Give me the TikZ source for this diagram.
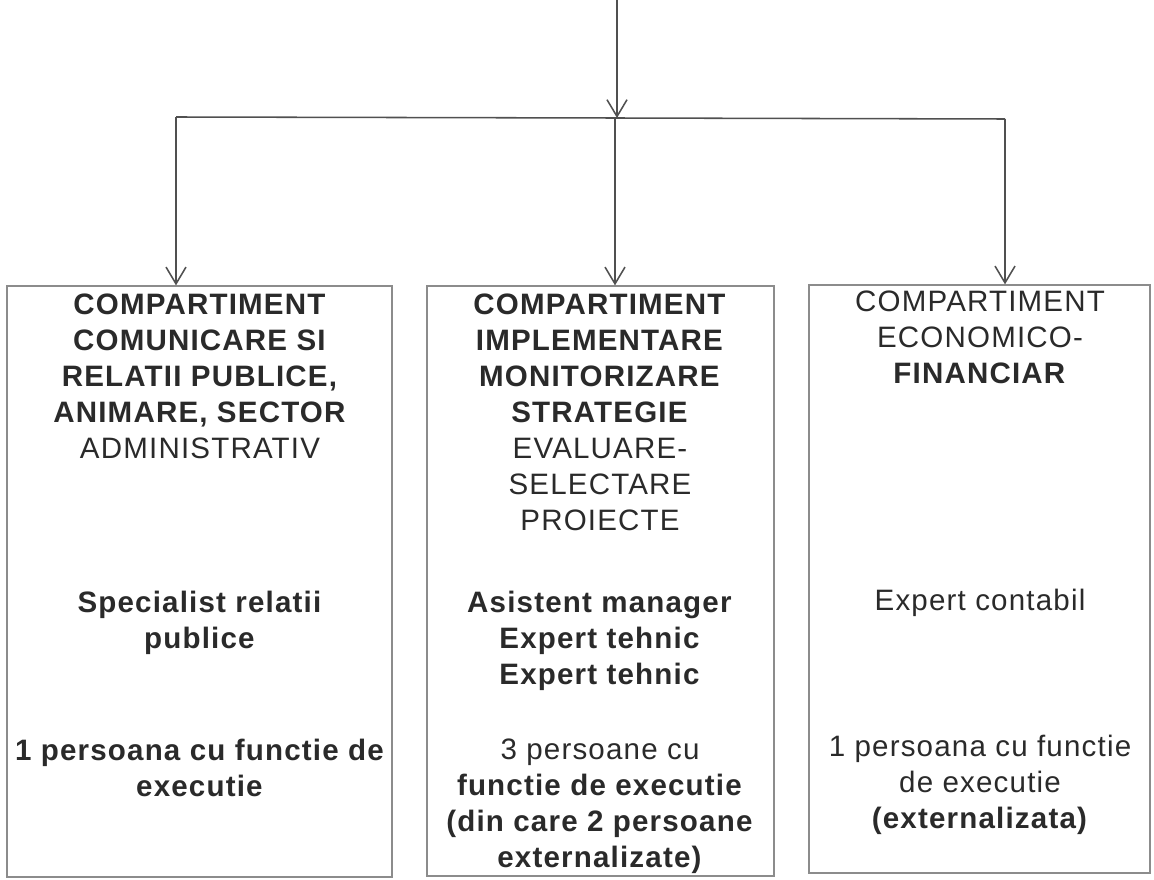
\documentclass[tikz,border=0pt]{standalone}
\usepackage{fontspec}
\setmainfont[LetterSpace=4]{Liberation Sans}
\usetikzlibrary{arrows.meta,fit}
\definecolor{inkgray}{HTML}{2A2A2A}
\definecolor{framegray}{HTML}{8C8C8C}
\definecolor{linegray}{HTML}{505050}
\tikzset{%
  >={Straight Barb[length=4.2mm,width=5mm]}, % open arrow heads
  compbox/.style={draw=framegray, line width=0.9pt, inner sep=0pt},%
  bloc/.style={align=center, anchor=north, inner sep=0pt, text=inkgray,%
    font=\fontsize{21}{25.5}\selectfont},%
  legatura/.style={draw=linegray, line width=1.1pt}%
}

\begin{document}
\begin{tikzpicture}[x=0.025cm,y=-0.025cm]
  \useasboundingbox (0,0) rectangle (1154,879);
  % boxes
  \node[compbox, fit={(7,286) (392,877)}] (comunicare) {};
  \node[compbox, fit={(427,286) (774,876)}] (implementare) {};
  \node[compbox, fit={(809,285) (1150,873)}] (economic) {};
  % connectors
  \coordinate (sus) at (617,0);
  \coordinate (nod) at (617,118);
  \coordinate (busL) at (176,117);
  \coordinate (busM) at (615,118);
  \coordinate (busR) at (1005,119);
  \draw[legatura,->] (sus) -- (nod);
  \draw[legatura] (busL) -- (busM) -- (busR);
  \draw[legatura,->] (busL) -- (busL |- comunicare.north);
  \draw[legatura,->] (busM) -- (busM |- implementare.north);
  \draw[legatura,->] (busR) -- (busR |- economic.north);
  % compartiment comunicare
  \node[bloc] (comunicareHead) at (200,294) {\textbf{COMPARTIMENT}\\\textbf{COMUNICARE SI}\\
    \textbf{RELATII PUBLICE,}\\\textbf{ANIMARE, SECTOR}\\ADMINISTRATIV};
  \node[bloc] (comunicarePost) at (200,591) {\textbf{Specialist relatii}\\\textbf{publice}};
  \node[bloc] (comunicareNr) at (200,739) {\textbf{1 persoana cu functie de}\\\textbf{executie}};
  % compartiment implementare
  \node[bloc] (implementareHead) at (600,294) {\textbf{COMPARTIMENT}\\\textbf{IMPLEMENTARE}\\
    \textbf{MONITORIZARE}\\\textbf{STRATEGIE}\\EVALUARE-\\SELECTARE\\PROIECTE};
  \node[bloc] (implementarePost) at (600,591) {\textbf{Asistent manager}\\\textbf{Expert tehnic}\\
    \textbf{Expert tehnic}};
  \node[bloc] (implementareNr) at (600,739) {3 persoane cu\\\textbf{functie de executie}\\
    \textbf{(din care 2 persoane}\\\textbf{externalizate)}};
  % compartiment economico-financiar
  \node[bloc] (economicHead) at (980,291) {COMPARTIMENT\\ECONOMICO-\\\textbf{FINANCIAR}};
  \node[bloc] (economicPost) at (980,589) {Expert contabil};
  \node[bloc] (economicNr) at (980,735) {1 persoana cu functie\\de executie\\\textbf{(externalizata)}};
\end{tikzpicture}
\end{document}
